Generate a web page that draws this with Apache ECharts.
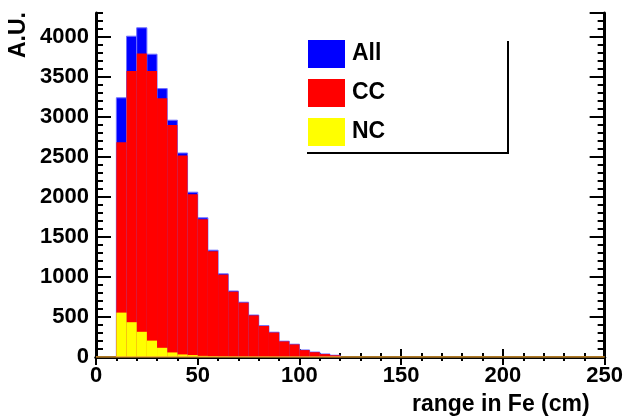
<!DOCTYPE html>
<html>
<head>
<meta charset="utf-8">
<script src="https://cdn.jsdelivr.net/npm/echarts@6/dist/echarts.min.js"></script>
<style>
  html, body { margin: 0; padding: 0; background: #fff; }
  #chart { width: 626px; height: 419px; }
</style>
</head>
<body>
<div id="chart"></div>
<script>
// Histogram of range in iron, 5 cm bins starting at 10 cm
const binWidth = 5;
const binLow = [10, 15, 20, 25, 30, 35, 40, 45, 50, 55, 60, 65, 70, 75, 80, 85, 90, 95, 100, 105, 110, 115];
const allCounts = [3240, 4010, 4115, 3785, 3355, 2960, 2550, 2060, 1740, 1335, 1040, 825, 685, 525, 392, 310, 198, 160, 88, 62, 38, 22];
const ccCounts  = [2685, 3575, 3795, 3575, 3235, 2900, 2520, 2035, 1722, 1322, 1030, 817, 679, 520, 388, 306, 195, 157, 86, 60, 36, 21];
const ncCounts  = [555, 435, 315, 205, 115, 57, 32, 24, 14, 9, 6, 4, 3, 2, 2, 1, 1, 1, 0, 0, 0, 0];
const xTicks = [0, 50, 100, 150, 200, 250];
const yMax = 4300;
const baselineSpan = [0, 250];

const FONT = 'Liberation Sans, Arial, Helvetica, sans-serif';

function binData(counts) {
  return binLow.map((lo, i) => [lo, lo + binWidth, counts[i]]);
}

function histRender(fill, stroke) {
  return function (params, api) {
    const x0 = api.value(0), x1 = api.value(1), v = api.value(2);
    if (!v) return null;
    const pTop = api.coord([x0, v]);
    const pBot = api.coord([x1, 0]);
    return {
      type: 'rect',
      shape: { x: pTop[0], y: pTop[1], width: pBot[0] - pTop[0], height: pBot[1] - pTop[1] },
      style: { fill: fill, stroke: stroke, lineWidth: stroke ? 1 : 0 }
    };
  };
}

const frameLine = { show: true, lineStyle: { color: '#000', width: 3 } };
const plainNumber = v => String(v);

function xAxisDef(pos, showLabels) {
  return {
    type: 'value', position: pos, min: xTicks[0], max: xTicks[xTicks.length - 1], interval: 50,
    axisLine: frameLine,
    axisTick: { show: true, inside: true, length: 8, lineStyle: { color: '#000', width: 2 } },
    minorTick: { show: true, splitNumber: 5, length: 4, lineStyle: { color: '#000', width: 2 } },
    splitLine: { show: false },
    axisLabel: { show: showLabels, formatter: plainNumber, color: '#000', fontFamily: FONT, fontWeight: 'bold', fontSize: 22, margin: 8 }
  };
}

function yAxisDef(pos, interval, tickLen, showLabels, showLine) {
  return {
    type: 'value', position: pos, min: 0, max: yMax, interval: interval,
    axisLine: showLine ? frameLine : { show: false },
    axisTick: { show: true, inside: true, length: tickLen, lineStyle: { color: '#000', width: 2 } },
    splitLine: { show: false },
    axisLabel: { show: showLabels, showMaxLabel: false, formatter: plainNumber, color: '#000', fontFamily: FONT, fontWeight: 'bold', fontSize: 22, margin: 7 }
  };
}

const chart = echarts.init(document.getElementById('chart'), null, { renderer: 'canvas' });

const xBottom = xAxisDef('bottom', true);
xBottom.name = 'range in Fe (cm)';
xBottom.nameLocation = 'end';
xBottom.nameGap = -15;
xBottom.nameTextStyle = { color: '#000', fontFamily: FONT, fontWeight: 'bold', fontSize: 23, align: 'right', verticalAlign: 'top', padding: [36, 0, 0, 0] };

chart.setOption({
  animation: false,
  backgroundColor: '#fff',
  grid: { left: 96, right: 19, top: 13, bottom: 62, containLabel: false },
  xAxis: [xBottom, xAxisDef('top', false)],
  yAxis: [
    yAxisDef('left', 500, 15, true, true),
    yAxisDef('left', 100, 7, false, false),
    yAxisDef('right', 500, 15, false, true),
    yAxisDef('right', 100, 7, false, false)
  ],
  legend: {
    data: ['All', 'CC', 'NC'],
    orient: 'vertical', left: 308, top: 40, padding: 0,
    icon: 'rect', itemWidth: 37, itemHeight: 28, itemGap: 11,
    selectedMode: false,
    textStyle: { color: '#000', fontFamily: FONT, fontWeight: 'bold', fontSize: 23, padding: [2, 0, 0, 2] }
  },
  graphic: [
    { type: 'line', shape: { x1: 508, y1: 41, x2: 508, y2: 153 }, style: { stroke: '#000', lineWidth: 2 }, z: 10 },
    { type: 'line', shape: { x1: 307, y1: 153, x2: 509, y2: 153 }, style: { stroke: '#000', lineWidth: 2 }, z: 10 },
    { type: 'text', x: 19, y: 12, rotation: Math.PI / 2,
      style: { text: 'A.U.', fill: '#000', font: 'bold 23px ' + FONT, align: 'right', verticalAlign: 'middle' } }
  ],
  series: [
    { name: 'All', type: 'custom', color: '#0000ff', renderItem: histRender('#0000ff', '#7070ff'),
      data: binData(allCounts), encode: { x: [0, 1], y: 2 }, clip: true, z: 2 },
    { name: 'CC', type: 'custom', color: '#ff0000', renderItem: histRender('#ff0000', null),
      data: binData(ccCounts), encode: { x: [0, 1], y: 2 }, clip: true, z: 3 },
    { name: 'NC', type: 'custom', color: '#ffff00', renderItem: histRender('#ffff00', null),
      data: binData(ncCounts), encode: { x: [0, 1], y: 2 }, clip: true, z: 4 },
    { name: 'baseline', type: 'line', data: baselineSpan.map(x => [x, 0]), symbol: 'none',
      lineStyle: { color: '#e8a030', width: 1.5 }, z: 5, silent: true }
  ]
});
</script>
</body>
</html>
